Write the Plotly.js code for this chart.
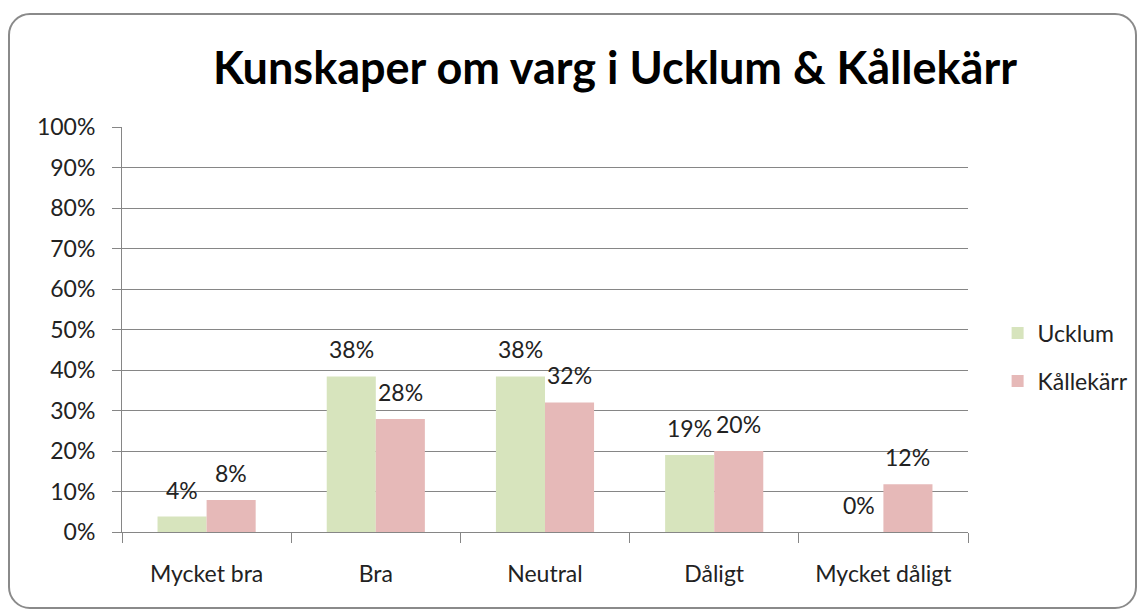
<!DOCTYPE html>
<html>
<head>
<meta charset="utf-8">
<script src="https://cdn.plot.ly/plotly-3.0.1.min.js"></script>
<style>
html,body{margin:0;padding:0;background:#fff;}
#wrap{position:relative;width:1143px;height:612px;}
#chart{position:absolute;left:0;top:0;width:1143px;height:612px;}
#frame{position:absolute;left:8px;top:13px;width:1125px;height:592px;border:2px solid #8a8a8a;border-radius:22px;pointer-events:none;}
</style>
</head>
<body>
<div id="wrap"><div id="chart"></div><div id="frame"></div></div>
<script>
var categories = ["Mycket bra", "Bra", "Neutral", "Dåligt", "Mycket dåligt"];
var ucklum = [3.8, 38.4, 38.4, 19.0, 0];
var kallekarr = [7.9, 27.9, 32.0, 20.0, 11.8];
var yTickVals = [0, 10, 20, 30, 40, 50, 60, 70, 80, 90, 100];
var yTickText = ["0%", "10%", "20%", "30%", "40%", "50%", "60%", "70%", "80%", "90%", "100%"];

var font = "Lato, 'Open Sans', sans-serif";
function pct(v){ return Math.round(v) + "%"; }

var traces = [
  {type:"bar", name:"Ucklum", legendgroup:"a", x:categories, y:ucklum, marker:{color:"#d7e4bd"}},
  {type:"bar", name:"Kållekärr", legendgroup:"b", x:categories, y:kallekarr, marker:{color:"#e6b9b8"}}
];

var annotations = [];
[[ucklum, -24.5], [kallekarr, 24.5]].forEach(function(s){
  s[0].forEach(function(v, i){
    annotations.push({x:categories[i], y:v, xref:"x", yref:"y", text:pct(v), showarrow:false,
      xanchor:"center", yanchor:"bottom", xshift:s[1], yshift:11,
      font:{family:font, size:23, color:"#222"}});
  });
});

var layout = {
  width:1143, height:612,
  margin:{l:122, r:175, t:127, b:80, autoexpand:false},
  paper_bgcolor:"rgba(0,0,0,0)", plot_bgcolor:"#fff",
  barmode:"group", bargap:0.42, bargroupgap:0,
  font:{family:font, color:"#222"},
  title:{text:"<b>Kunskaper om varg i Ucklum &amp; Kållekärr</b>", x:0.538, xanchor:"center", y:0.888, yanchor:"middle",
         font:{family:font, size:45, color:"#000"}},
  xaxis:{type:"category", showgrid:false, showline:true, linecolor:"#868686", linewidth:1,
         ticks:"outside", tickson:"boundaries", ticklen:10, tickcolor:"#868686",
         tickfont:{family:font, size:23, color:"#222"}, ticklabelstandoff:21},
  yaxis:{range:[0,100], tickvals:yTickVals, ticktext:yTickText, showgrid:true, gridcolor:"#868686", gridwidth:1,
         showline:true, linecolor:"#868686", linewidth:1, ticks:"outside", ticklen:9, tickcolor:"#868686",
         tickfont:{family:font, size:23, color:"#222"}, ticklabelstandoff:12, zeroline:false},
  legend:{x:1.035, xanchor:"left", y:0.432, yanchor:"middle", font:{family:font, size:23, color:"#222"},
          tracegroupgap:15, itemwidth:30, bgcolor:"rgba(0,0,0,0)"},
  annotations:annotations,
  showlegend:true
};

Plotly.newPlot("chart", traces, layout, {displayModeBar:false, staticPlot:true});
</script>
</body>
</html>
